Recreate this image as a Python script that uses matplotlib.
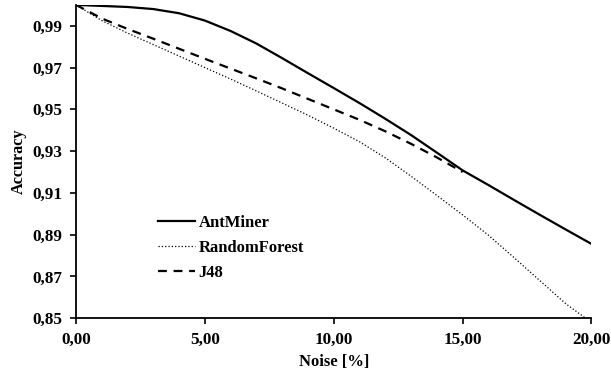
import numpy as np
import matplotlib
matplotlib.use("Agg")
import matplotlib.pyplot as plt
from matplotlib.ticker import FuncFormatter

# values
noise = [0, 1, 2, 3, 4, 5, 6, 7, 8, 9, 10, 11, 12, 13, 14, 15, 16, 17, 18, 19, 20]
antminer = [1.0, 0.9995, 0.999, 0.998, 0.996, 0.9925, 0.9875, 0.9815, 0.9745, 0.9673,
            0.9602, 0.953, 0.9455, 0.9377, 0.9293, 0.9208, 0.9138, 0.9066, 0.8995, 0.8925, 0.8856]
randomforest = [1.0, 0.9925, 0.9865, 0.981, 0.9755, 0.970, 0.9645, 0.9588, 0.953, 0.9472,
                0.941, 0.9345, 0.9268, 0.918, 0.9088, 0.8995, 0.8898, 0.879, 0.868, 0.857, 0.848]
noise_j48 = [0, 1, 2, 3, 4, 5, 6, 7, 8, 9, 10, 11, 12, 13, 14, 15]
j48 = [1.0, 0.9935, 0.9885, 0.9838, 0.979, 0.9742, 0.9695, 0.9648, 0.960, 0.955,
       0.950, 0.945, 0.9395, 0.9335, 0.927, 0.920]

x_ticks = [0, 5, 10, 15, 20]
y_ticks = [0.85, 0.87, 0.89, 0.91, 0.93, 0.95, 0.97, 0.99]

plt.rcParams['font.family'] = ['Liberation Serif', 'DejaVu Serif']
plt.rcParams['font.weight'] = 'bold'

fig = plt.figure(figsize=(6.11, 3.76), dpi=100)
ax = fig.add_axes([0.1244, 0.1535, 0.8436, 0.8335])

ax.plot(noise, antminer, '-', color='black', lw=1.6, label='AntMiner')
ax.plot(noise, randomforest, ':', color='black', lw=0.9, label='RandomForest')
ax.plot(noise_j48, j48, '--', color='black', lw=1.6, dashes=(4, 3), label='J48')

ax.set_xlim(0, 20)
ax.set_ylim(0.85, 1.0)
ax.set_xticks(x_ticks)
ax.set_yticks(y_ticks)
comma = FuncFormatter(lambda v, p: ('%.2f' % v).replace('.', ','))
ax.xaxis.set_major_formatter(comma)
ax.yaxis.set_major_formatter(comma)

for s in ['top', 'right']:
    ax.spines[s].set_visible(False)
for s in ['left', 'bottom']:
    ax.spines[s].set_linewidth(1.3)

ax.tick_params(axis='both', direction='out', length=4, width=1.2, labelsize=12.3)
ax.tick_params(axis='y', pad=6)
ax.tick_params(axis='x', pad=6)

ax.set_xlabel('Noise [%]', fontsize=12, fontweight='bold', labelpad=4)
ax.set_ylabel('Accuracy', fontsize=11.7, fontweight='bold', labelpad=4)

ax.legend(loc='upper left', bbox_to_anchor=(0.159, 0.331), frameon=False,
          borderpad=0, borderaxespad=0, handlelength=2.2, handletextpad=0.25,
          labelspacing=0.54, prop={'size': 12, 'weight': 'bold'})

fig.savefig('out.png', dpi=100)
